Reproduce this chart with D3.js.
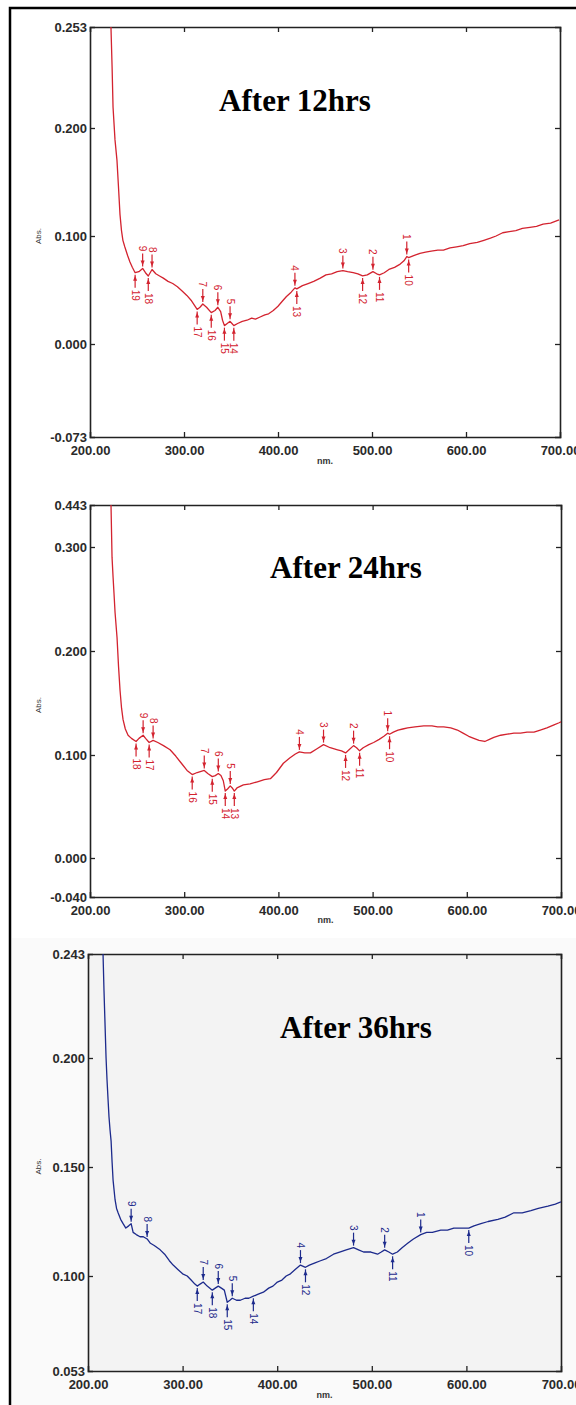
<!DOCTYPE html>
<html>
<head>
<meta charset="utf-8">
<script src="https://cdn.jsdelivr.net/npm/d3@7"></script>
<style>
  body { margin: 0; background: #fff; }
  svg { display: block; }
</style>
</head>
<body>
<svg id="chart" width="576" height="1405"></svg>
<script>
// wavelength ticks shared by all three spectra
var xTicks = [200, 300, 400, 500, 600, 700];
var xTickLabels = ["200.00", "300.00", "400.00", "500.00", "600.00", "700.00"];

// ---- After 12hrs ----
var nm12 = [221, 222.3, 223.5, 224.5, 226.6, 228.7, 230.2, 231.9, 233.5, 235, 237, 240, 242.5, 245, 248, 252, 256, 259, 262, 266,
  270, 274, 278, 283, 288, 293, 298, 303, 308, 311, 314, 317, 320, 324, 329, 333, 336, 339, 341, 343, 346, 349, 351, 353, 357,
  362, 367, 372, 376, 381, 386, 390, 395, 400, 405, 409, 414, 418, 420, 426, 432, 438, 445, 451, 457, 463, 469, 474, 480, 485,
  490, 495, 501, 505, 508, 513, 518, 524, 530, 534, 537, 539, 545, 551, 557, 563, 570, 576, 583, 590, 597, 604, 612, 619, 626,
  632, 639, 646, 653, 660, 668, 675, 682, 690, 699];
var abs12 = [0.262, 0.253, 0.232, 0.211, 0.189, 0.170, 0.147, 0.120, 0.105, 0.096, 0.090, 0.082, 0.076, 0.071, 0.066, 0.067, 0.070, 0.066, 0.063, 0.069,
  0.065, 0.063, 0.061, 0.058, 0.056, 0.053, 0.049, 0.045, 0.040, 0.036, 0.032, 0.034, 0.037, 0.034, 0.029, 0.031, 0.034, 0.030, 0.022, 0.017, 0.019, 0.021, 0.019, 0.017, 0.019,
  0.021, 0.022, 0.024, 0.023, 0.025, 0.027, 0.028, 0.031, 0.035, 0.040, 0.044, 0.048, 0.052, 0.051, 0.054, 0.056, 0.058, 0.061, 0.064, 0.065, 0.067, 0.068, 0.067, 0.066, 0.065,
  0.063, 0.064, 0.067, 0.065, 0.064, 0.066, 0.069, 0.071, 0.074, 0.077, 0.081, 0.080, 0.082, 0.084, 0.085, 0.086, 0.087, 0.087, 0.089, 0.090, 0.091, 0.093, 0.094, 0.096, 0.098,
  0.100, 0.103, 0.104, 0.105, 0.107, 0.108, 0.109, 0.111, 0.112, 0.115];
var peakNo12 = [1, 2, 3, 4, 5, 6, 7, 8, 9];
var peakNm12 = [537, 501, 469, 418, 349, 336, 320, 266, 256];
var peakAbs12 = [0.081, 0.067, 0.068, 0.052, 0.021, 0.034, 0.037, 0.069, 0.070];
var valleyNo12 = [10, 11, 12, 13, 14, 15, 16, 17, 18, 19];
var valleyNm12 = [539, 508, 490, 420, 353, 343, 329, 314, 262, 248];
var valleyAbs12 = [0.080, 0.064, 0.063, 0.051, 0.017, 0.017, 0.029, 0.032, 0.063, 0.066];
var yTicks12 = [-0.073, 0, 0.1, 0.2, 0.253];
var yTickLabels12 = ["-0.073", "0.000", "0.100", "0.200", "0.253"];

// ---- After 24hrs ----
var nm24 = [221, 222.3, 223.4, 224.5, 225.5, 226.6, 228.7, 230.3, 231.9, 233.5, 235.1, 237.5, 240.4, 244, 248.9, 252, 256.4, 259, 262.8, 267,
  272, 278, 285, 291, 297, 303, 308.5, 313.8, 321.3, 325, 329.8, 333, 336.2, 339, 341.5, 343.6, 346, 348.9, 351, 353.2, 356, 362.8,
  370, 377.7, 385, 391.5, 398, 405.3, 412, 418, 422.3, 428, 434, 441, 447.9, 455, 462.8, 467, 471.3, 475, 479.8, 483, 486.2, 490,
  496, 501.1, 507, 512, 516, 518, 522, 527, 532, 537.2, 545, 554.3, 563, 569, 575.5, 583, 590, 596, 602, 607.4, 613, 619.1, 624,
  628.7, 636, 643, 650, 657, 664, 671.3, 678, 685, 692.6, 698, 700];
var abs24 = [0.47, 0.443, 0.290, 0.271, 0.255, 0.237, 0.213, 0.185, 0.162, 0.145, 0.134, 0.125, 0.119, 0.116, 0.113, 0.116, 0.119, 0.116, 0.112, 0.114,
  0.112, 0.109, 0.105, 0.099, 0.092, 0.085, 0.081, 0.083, 0.085, 0.082, 0.079, 0.080, 0.082, 0.080, 0.075, 0.065, 0.067, 0.070, 0.068, 0.065, 0.068, 0.071,
  0.072, 0.074, 0.076, 0.077, 0.083, 0.092, 0.097, 0.101, 0.103, 0.102, 0.102, 0.106, 0.110, 0.107, 0.105, 0.104, 0.102, 0.105, 0.109, 0.107, 0.104, 0.107,
  0.110, 0.112, 0.115, 0.118, 0.121, 0.120, 0.122, 0.124, 0.125, 0.126, 0.127, 0.128, 0.128, 0.127, 0.127, 0.126, 0.124, 0.121, 0.118, 0.116, 0.114, 0.113, 0.115,
  0.117, 0.119, 0.120, 0.121, 0.121, 0.122, 0.122, 0.124, 0.126, 0.129, 0.131, 0.132];
var peakNo24 = [1, 2, 3, 4, 5, 6, 7, 8, 9];
var peakNm24 = [516, 479.8, 447.9, 422.3, 348.9, 336.2, 321.3, 267, 256.4];
var peakAbs24 = [0.121, 0.109, 0.110, 0.103, 0.070, 0.082, 0.085, 0.114, 0.119];
var valleyNo24 = [10, 11, 12, 13, 14, 15, 16, 17, 18];
var valleyNm24 = [518, 486.2, 471.3, 353.2, 343.6, 329.8, 308.5, 262.8, 248.9];
var valleyAbs24 = [0.120, 0.104, 0.102, 0.065, 0.065, 0.079, 0.081, 0.112, 0.113];
var yTicks24 = [-0.04, 0, 0.1, 0.2, 0.3, 0.443];
var yTickLabels24 = ["-0.040", "0.000", "0.100", "0.200", "0.300", "0.443"];

// ---- After 36hrs ----
var nm36 = [214, 215.9, 216.9, 218, 219.1, 220.1, 221.2, 222.2, 223.3, 224.4, 225.5, 226.5, 228.6, 230.2, 231.8, 234.5, 237.1, 240, 243, 245.6,
  247.7, 251, 255, 258.5, 262.5, 266, 270, 276.3, 281, 286, 290, 295, 300, 304.9, 309, 313, 315.5, 318.5, 321.8, 326, 331.4, 334.5,
  337.7, 341, 344.1, 347.2, 350, 352.5, 357, 361, 366, 370, 374.8, 380, 385.4, 391, 395.5, 400.2, 405, 409.5, 414, 419, 424.6, 429.9,
  434, 440, 445.8, 452, 459.5, 466, 473, 480.7, 486, 491.3, 499, 506.1, 510, 513.6, 518, 522, 527, 532, 537.9, 544, 551.7, 558, 564,
  572.9, 580, 586.7, 595, 602.5, 608, 615.3, 623, 633.3, 641, 650.2, 659, 668.2, 676, 686.2, 694, 700];
var abs36 = [0.25, 0.243, 0.228, 0.214, 0.200, 0.190, 0.181, 0.173, 0.167, 0.162, 0.152, 0.144, 0.135, 0.131, 0.129, 0.126, 0.124, 0.122, 0.123, 0.124,
  0.120, 0.119, 0.118, 0.118, 0.117, 0.115, 0.114, 0.112, 0.110, 0.107, 0.105, 0.103, 0.101, 0.100, 0.098, 0.096, 0.095, 0.096, 0.097, 0.095, 0.093, 0.094,
  0.095, 0.094, 0.093, 0.087, 0.088, 0.089, 0.088, 0.088, 0.089, 0.089, 0.090, 0.091, 0.092, 0.094, 0.095, 0.097, 0.098, 0.100, 0.101, 0.103, 0.105, 0.104,
  0.105, 0.106, 0.107, 0.108, 0.110, 0.111, 0.112, 0.113, 0.112, 0.111, 0.111, 0.110, 0.111, 0.112, 0.111, 0.110, 0.111, 0.113, 0.115, 0.117, 0.119, 0.120, 0.120,
  0.121, 0.121, 0.122, 0.122, 0.122, 0.123, 0.124, 0.125, 0.126, 0.127, 0.129, 0.129, 0.130, 0.131, 0.132, 0.133, 0.134];
var peakNo36 = [1, 2, 3, 4, 5, 6, 7, 8, 9];
var peakNm36 = [551.7, 513.6, 480.7, 424.6, 352.5, 337.7, 321.8, 262.5, 245.6];
var peakAbs36 = [0.119, 0.112, 0.113, 0.105, 0.089, 0.095, 0.097, 0.117, 0.124];
var valleyNo36 = [10, 11, 12, 14, 15, 17, 18];
var valleyNm36 = [602.5, 522, 429.9, 374.8, 347.2, 315.5, 331.4];
var valleyAbs36 = [0.122, 0.110, 0.104, 0.090, 0.087, 0.095, 0.093];
var yTicks36 = [0.053, 0.1, 0.15, 0.2, 0.243];
var yTickLabels36 = ["0.053", "0.100", "0.150", "0.200", "0.243"];

var titles = ["After 12hrs", "After 24hrs", "After 36hrs"];

const svg = d3.select("#chart");

// outer frame of the figure
svg.append("rect").attr("x", 10).attr("y", 8).attr("width", 580).attr("height", 1410)
  .attr("fill", "none").attr("stroke", "#000").attr("stroke-width", 2.5);

// panel boxes (the printed axes are not linear, so each y scale is piecewise)
const panels = [
  { nm: nm12, abs: abs12, pNo: peakNo12, pNm: peakNm12, pAbs: peakAbs12, vNo: valleyNo12, vNm: valleyNm12, vAbs: valleyAbs12,
    yTicks: yTicks12, yLabels: yTickLabels12, yPx: [437, 344, 236, 128, 27], left: 90, right: 560, color: "#d3232f",
    title: titles[0], titleX: 295, titleY: 111, nmY: 27, bg: null },
  { nm: nm24, abs: abs24, pNo: peakNo24, pNm: peakNm24, pAbs: peakAbs24, vNo: valleyNo24, vNm: valleyNm24, vAbs: valleyAbs24,
    yTicks: yTicks24, yLabels: yTickLabels24, yPx: [897, 858, 755, 651, 547, 505], left: 90, right: 561, color: "#d3232f",
    title: titles[1], titleX: 346, titleY: 578, nmY: 26, bg: null },
  { nm: nm36, abs: abs36, pNo: peakNo36, pNm: peakNm36, pAbs: peakAbs36, vNo: valleyNo36, vNm: valleyNm36, vAbs: valleyAbs36,
    yTicks: yTicks36, yLabels: yTickLabels36, yPx: [1371, 1276, 1167, 1058, 954], left: 88, right: 561, color: "#1c2a8c",
    title: titles[2], titleX: 356, titleY: 1038, nmY: 27, bg: "#f3f3f3" }
];

// light grey backdrop behind the third printout
svg.append("rect").attr("x", 12).attr("y", 938).attr("width", 564).attr("height", 467).attr("fill", "#fafafa");

panels.forEach(function (p, i) {
  const top = d3.min(p.yPx), bottom = d3.max(p.yPx);
  const x = d3.scaleLinear().domain([200, 700]).range([p.left, p.right]);
  const y = d3.scaleLinear().domain(p.yTicks).range(p.yPx);

  const g = svg.append("g");

  if (p.bg) {
    g.append("rect").attr("x", p.left).attr("y", top).attr("width", p.right - p.left)
      .attr("height", bottom - top).attr("fill", p.bg);
  }

  g.append("clipPath").attr("id", "clip" + i).append("rect")
    .attr("x", p.left).attr("y", top).attr("width", p.right - p.left).attr("height", bottom - top);

  // bottom axis with labels, ticks pointing in
  const xAxis = g.append("g").attr("transform", "translate(0," + bottom + ")")
    .call(d3.axisBottom(x).tickValues(xTicks).tickSize(-5).tickPadding(9)
      .tickFormat(function (d, k) { return xTickLabels[k]; }));
  // top axis, ticks only
  const xAxisTop = g.append("g").attr("transform", "translate(0," + top + ")")
    .call(d3.axisTop(x).tickValues(xTicks).tickSize(-5).tickFormat(""));
  // left axis with labels
  const yAxis = g.append("g").attr("transform", "translate(" + p.left + ",0)")
    .call(d3.axisLeft(y).tickValues(p.yTicks).tickSize(-5).tickPadding(4)
      .tickFormat(function (d, k) { return p.yLabels[k]; }));
  // right axis, ticks only
  const yAxisR = g.append("g").attr("transform", "translate(" + p.right + ",0)")
    .call(d3.axisRight(y).tickValues(p.yTicks).tickSize(-5).tickFormat(""));

  [xAxis, xAxisTop, yAxis, yAxisR].forEach(function (a) {
    a.select(".domain").attr("stroke", "#222").attr("stroke-width", 1.6);
    a.selectAll(".tick line").attr("stroke", "#222").attr("stroke-width", 1.3);
    a.selectAll("text").attr("fill", "#2a2a2a").attr("font-family", "Liberation Sans, Arial, sans-serif")
      .attr("font-size", 13).attr("font-weight", "bold");
  });
  // end ticks sit on the frame corners, hide them
  [xAxis, xAxisTop].forEach(function (a) {
    a.selectAll(".tick line").filter(function (d) { return d === 200 || d === 700; }).remove();
  });
  [yAxis, yAxisR].forEach(function (a) {
    a.selectAll(".tick line").filter(function (d, k) { return k === 0 || k === p.yTicks.length - 1; }).remove();
  });
  yAxis.selectAll(".tick text").attr("dy", "0.35em").attr("x", -3);

  g.append("text").attr("x", (p.left + p.right) / 2 + 0).attr("y", bottom + p.nmY)
    .attr("text-anchor", "middle").attr("font-family", "Liberation Sans, Arial, sans-serif")
    .attr("font-size", 9).attr("font-weight", "bold").attr("fill", "#333").text("nm.");

  g.append("text").attr("transform", "translate(41," + ((top + bottom) / 2 + 4) + ") rotate(-90)")
    .attr("text-anchor", "middle").attr("font-family", "Liberation Sans, Arial, sans-serif")
    .attr("font-size", 8).attr("fill", "#333").text("Abs.");

  g.append("text").attr("x", p.titleX).attr("y", p.titleY).attr("text-anchor", "middle")
    .attr("font-family", "Liberation Serif, Times New Roman, serif").attr("font-weight", "bold")
    .attr("font-size", 31).attr("fill", "#000").text(p.title);

  // spectrum
  const line = d3.line().x(function (d, k) { return x(p.nm[k]); }).y(function (d, k) { return y(p.abs[k]); });
  g.append("path").datum(p.abs).attr("clip-path", "url(#clip" + i + ")")
    .attr("fill", "none").attr("stroke", p.color).attr("stroke-width", 1.3)
    .attr("stroke-linejoin", "round").attr("d", line);

  // peak picks: arrows from above with the number over them
  const peaks = g.append("g").selectAll("g").data(p.pNo).join("g")
    .attr("transform", function (d, k) { return "translate(" + x(p.pNm[k]) + "," + y(p.pAbs[k]) + ")"; });
  peaks.append("line").attr("y1", -15).attr("y2", -2).attr("stroke", p.color).attr("stroke-width", 1.2);
  peaks.append("path").attr("d", "M-2,-8 L2,-8 L0,-3 Z").attr("fill", p.color);
  peaks.append("text").attr("transform", "translate(0,-17) rotate(90)").attr("text-anchor", "end")
    .attr("dy", "0.35em").attr("font-family", "Liberation Sans, Arial, sans-serif").attr("font-size", 10)
    .attr("fill", p.color).text(function (d) { return d; });

  // valley picks: arrows from below with the number under them
  const valleys = g.append("g").selectAll("g").data(p.vNo).join("g")
    .attr("transform", function (d, k) { return "translate(" + x(p.vNm[k]) + "," + y(p.vAbs[k]) + ")"; });
  valleys.append("line").attr("y1", 2).attr("y2", 15).attr("stroke", p.color).attr("stroke-width", 1.2);
  valleys.append("path").attr("d", "M-2,8 L2,8 L0,3 Z").attr("fill", p.color);
  valleys.append("text").attr("transform", "translate(0,17) rotate(90)").attr("text-anchor", "start")
    .attr("dy", "0.35em").attr("font-family", "Liberation Sans, Arial, sans-serif").attr("font-size", 10)
    .attr("fill", p.color).text(function (d) { return d; });
});
</script>
</body>
</html>
